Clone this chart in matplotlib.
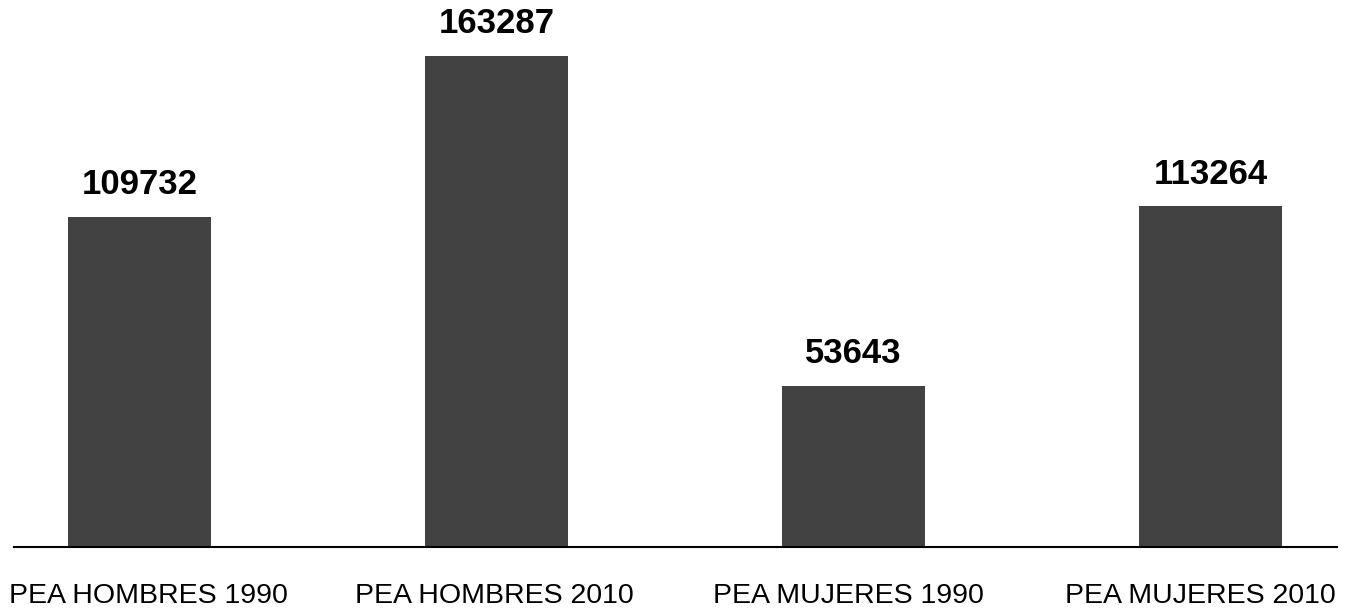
import matplotlib
matplotlib.use("Agg")
import matplotlib.pyplot as plt
from matplotlib.transforms import ScaledTranslation

plt.rcParams["font.family"] = ["Liberation Sans", "DejaVu Sans"]

categories = ["PEA HOMBRES 1990", "PEA HOMBRES 2010", "PEA MUJERES 1990", "PEA MUJERES 2010"]
values = [109732, 163287, 53643, 113264]

fig = plt.figure(figsize=(13.51, 6.08), dpi=100)
ax = fig.add_axes([14 / 1351, 61 / 608, 1323 / 1351, 547 / 608])

x = range(len(categories))
ax.bar(x, values, width=0.4, color="#424242")

for xi, v in zip(x, values):
    ax.annotate(str(v), (xi, v), xytext=(0, 16.5), textcoords="offset points",
                ha="center", va="baseline", fontsize=25, fontweight="bold", color="black")

ax.set_xlim(-0.352, 3.354)
ax.set_ylim(0, 163287 * 547 / 491)
ax.set_xticks(list(x))
ax.set_xticklabels(categories, fontsize=20.5)
ax.tick_params(axis="x", length=0, pad=26)
ax.set_yticks([])
for s in ["top", "right", "left"]:
    ax.spines[s].set_visible(False)
ax.spines["bottom"].set_linewidth(1.5)
ax.spines["bottom"].set_color("black")

# labels at the edges are nudged inward in the original
shifts = [9, -2, -5, -10]
for lab, dx in zip(ax.get_xticklabels(), shifts):
    lab.set_transform(lab.get_transform() + ScaledTranslation(dx / 100, 0, fig.dpi_scale_trans))

fig.savefig("out.png", dpi=100)
